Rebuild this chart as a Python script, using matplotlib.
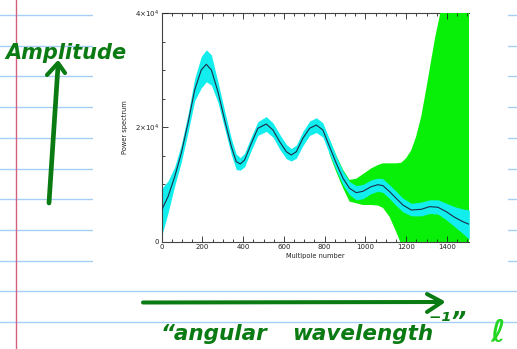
import matplotlib
matplotlib.use("Agg")
import matplotlib.pyplot as plt
from matplotlib.patches import Rectangle

# ---------------- data ----------------
ell_line = [0, 31, 64, 96, 129, 162, 194, 219, 244, 276, 309, 342, 366, 386, 407,
            440, 472, 513, 546, 579, 612, 636, 661, 693, 726, 759, 791, 824, 857,
            890, 922, 955, 988, 1028, 1061, 1086, 1119, 1151, 1184, 1225, 1274,
            1315, 1356, 1397, 1438, 1478, 1510]
power = [5520, 7850, 11360, 15460, 20720, 26560, 30060, 31060, 30060, 26260, 21300,
         16620, 13990, 13590, 14290, 17210, 19840, 20600, 19550, 17500, 15740, 15160,
         15740, 18090, 19840, 20420, 19550, 16620, 13710, 11080, 9330, 8560, 8800,
         9610, 9960, 9790, 8730, 7570, 6400, 5520, 5640, 6110, 6000, 5230, 4240,
         3480, 3000]
cyan_hi = [9300, 10600, 13100, 17000, 22300, 28600, 32400, 33600, 32700, 28000, 22900,
           18000, 15300, 14700, 15500, 18400, 21000, 21900, 20800, 18800, 17000, 16300,
           16900, 19300, 21100, 21700, 20800, 17900, 14900, 12300, 10500, 9800, 10000,
           10800, 11100, 11000, 9900, 8800, 7600, 6700, 6900, 7300, 7300, 6700, 6100,
           5700, 5500]
cyan_lo = [1000, 5000, 9800, 13900, 19100, 24700, 26900, 28000, 27400, 24400, 19800,
           15200, 12600, 12500, 13100, 16000, 18600, 19300, 18300, 16200, 14500, 14100,
           14600, 16800, 18600, 19100, 18300, 15300, 12500, 9900, 8200, 7300, 7500,
           8400, 8800, 8600, 7500, 6300, 5200, 4500, 4500, 4900, 4800, 3800, 2600,
           1400, 400]

ell_green = [824, 857, 890, 922, 955, 988, 1028, 1061, 1086, 1119, 1151, 1176, 1200,
             1225, 1249, 1274, 1298, 1323, 1343, 1364, 1400, 1510]
green_hi = [17900, 15100, 12600, 10800, 11000, 11800, 12800, 13400, 13700, 13700,
            13700, 13800, 14600, 16000, 18400, 21900, 26600, 31800, 35900, 39400,
            48000, 60000]
green_lo = [15300, 12200, 9400, 7000, 6700, 6400, 6400, 6300, 5900, 4300, 1700,
            -500, -3000, -6000, -9000, -12000, -15000, -18000, -20000, -22000,
            -26000, -35000]

y_ticks = [0, 20000, 40000]
y_ticklabels = ["0", r"2$\times$10$^4$", r"4$\times$10$^4$"]
x_ticks = [0, 200, 400, 600, 800, 1000, 1200, 1400]

W, H = 517, 349
fig = plt.figure(figsize=(W / 100, H / 100), dpi=100)
fig.patch.set_facecolor("white")

# ---------------- notebook page ----------------
bg = fig.add_axes([0, 0, 1, 1])
bg.set_xlim(0, W)
bg.set_ylim(H, 0)
bg.axis("off")

rule_color = "#a8cef8"
for k in range(11):
    y = 15 + 30.7 * k
    bg.plot([0, W], [y, y], color=rule_color, lw=1.0, zorder=1)
bg.plot([16, 16], [0, H], color="#d4607e", lw=1.0, zorder=1)

# white pasted chart image
bg.add_patch(Rectangle((93, 0), 415, 276, facecolor="white", edgecolor="none", zorder=2))

ink = "#0a7a12"
# handwritten "Amplitude" and vertical arrow
bg.text(5, 59, "Amplitude", color=ink, fontsize=15, fontweight="bold",
        fontstyle="italic", family="DejaVu Sans", ha="left", va="baseline", zorder=5)
bg.plot([49, 58], [203, 66], color=ink, lw=3.4, solid_capstyle="round", zorder=5)
bg.plot([47, 58, 65], [75, 63, 73], color=ink, lw=3.0, solid_capstyle="round",
        solid_joinstyle="round", zorder=5)

# horizontal arrow
bg.plot([143, 441], [302.5, 302], color=ink, lw=2.9, solid_capstyle="round", zorder=5)
bg.plot([427, 442, 427], [294, 302, 312], color=ink, lw=2.9, solid_capstyle="round",
        solid_joinstyle="round", zorder=5)

# handwritten bottom caption
bg.text(161, 340, "\u201cangular", color=ink, fontsize=15.5, fontweight="bold",
        fontstyle="italic", family="DejaVu Sans", ha="left", va="baseline", zorder=5)
bg.text(292, 340, "wavelength", color=ink, fontsize=15.5, fontweight="bold",
        fontstyle="italic", family="DejaVu Sans", ha="left", va="baseline", zorder=5)
bg.text(428, 329, "\u207b\u00b9\u201d", color=ink, fontsize=17, fontweight="bold",
        fontstyle="italic", family="DejaVu Sans", ha="left", va="baseline", zorder=5)
bg.text(490, 342, "\u2113", color="#22d622", fontsize=22, fontweight="bold",
        fontstyle="italic", family="DejaVu Sans", ha="left", va="baseline", zorder=5)

# ---------------- the chart ----------------
x0, x1 = 161.7, 469.3
yt, yb = 13.3, 241.5
ax = fig.add_axes([x0 / W, 1 - yb / H, (x1 - x0) / W, (yb - yt) / H])
ax.set_facecolor("white")

ax.fill_between(ell_green, green_lo, green_hi, color="#08f008", lw=0, zorder=1)
ax.fill_between(ell_line, cyan_lo, cyan_hi, color="#12eeee", lw=0, zorder=2)
ax.plot(ell_line, power, color="#1c2c48", lw=0.8, zorder=3)

ax.set_xlim(0, 1510)
ax.set_ylim(0, 40000)
ax.set_xticks(x_ticks)
ax.set_xticklabels([str(v) for v in x_ticks])
ax.set_xticks(range(0, 1501, 50), minor=True)
ax.set_yticks(y_ticks)
ax.set_yticklabels(y_ticklabels)
ax.set_yticks(range(0, 40001, 5000), minor=True)

ax.tick_params(which="both", direction="in", top=True, right=False, labelsize=5,
               colors="#222222", pad=2, width=0.6)
ax.tick_params(which="major", length=4)
ax.tick_params(which="minor", length=2.5)
for side in ["left", "bottom", "top"]:
    ax.spines[side].set_color("#444444")
    ax.spines[side].set_linewidth(0.8)
ax.spines["right"].set_visible(False)
ax.spines["top"].set_zorder(0.5)

ax.set_xlabel("Multipole number", fontsize=4.8, labelpad=2, color="#222222")
ax.set_ylabel("Power spectrum", fontsize=4.8, labelpad=5, color="#222222")

fig.savefig("out.png", dpi=100)
